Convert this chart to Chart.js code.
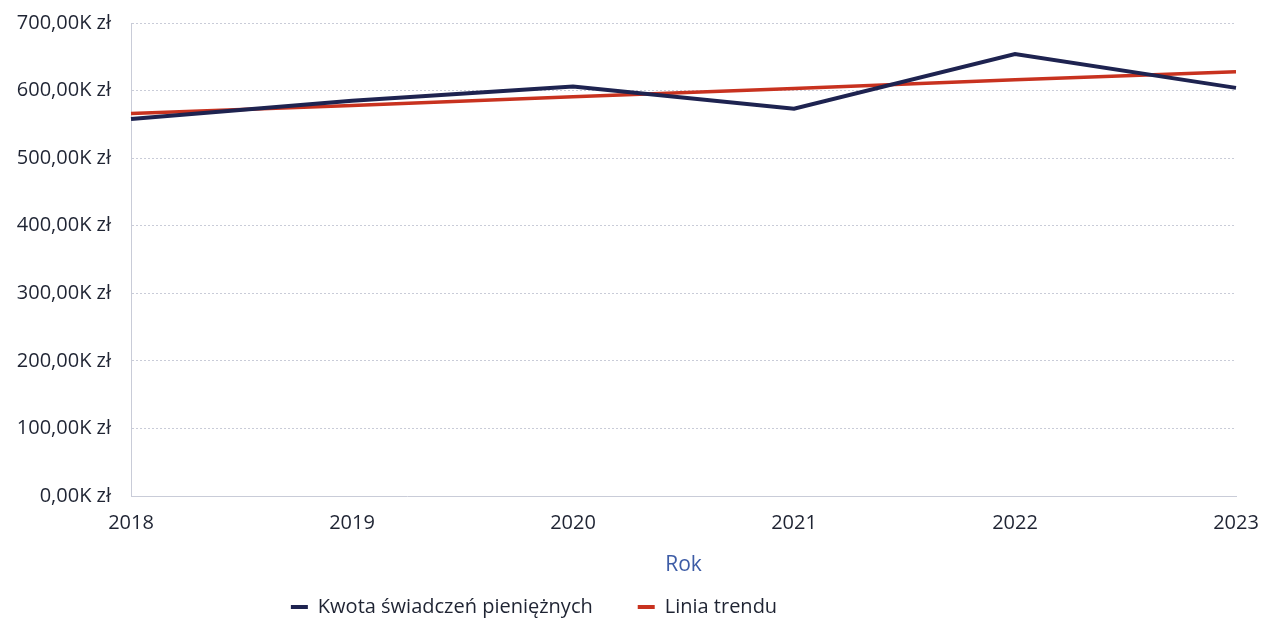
<!DOCTYPE html>
<html>
<head>
<meta charset="utf-8">
<script src="https://cdn.jsdelivr.net/npm/chart.js@4"></script>
<style>
  html, body { margin: 0; padding: 0; background: #fff; }
  #wrap { width: 1268px; height: 625px; }
</style>
</head>
<body>
<div id="wrap"><canvas id="kwotaChart"></canvas></div>
<script>
// Data (values in thousands of zł)
const years = ['2018', '2019', '2020', '2021', '2022', '2023'];
const kwota = [558, 585, 606, 573, 654, 604];
const trend = [566, 578, 591, 603, 616, 628];
const yTicks = [0, 100, 200, 300, 400, 500, 600, 700];

const textColor = '#1f2433';
const gridColor = '#c9ccd8';
const fontFamily = '"Open Sans", sans-serif';

// keep the legend short and move it left, like in the original
const legendTweak = {
    id: 'legendTweak',
    afterInit(chart) {
        const lg = chart.legend;
        const origFit = lg.fit;
        lg.fit = function () {
            origFit.call(this);
            this.height = 42;
        };
    },
    afterLayout(chart) {
        const lg = chart.legend;
        lg.left -= 100;
        lg.right -= 100;
        lg.top -= 31; // bottom stays, the legend clips to its box
    }
};

const config = {
    type: 'line',
    data: {
        labels: years,
        datasets: [{
            label: 'Kwota świadczeń pieniężnych',
            data: kwota,
            borderColor: '#1e2350',
            backgroundColor: '#1e2350',
            borderWidth: 4,
            pointRadius: 0,
            tension: 0
        }, {
            label: 'Linia trendu',
            data: trend,
            borderColor: '#c8321f',
            backgroundColor: '#c8321f',
            borderWidth: 3.5,
            pointRadius: 0,
            tension: 0
        }]
    },
    options: {
        responsive: true,
        maintainAspectRatio: false,
        animation: false,
        layout: { padding: 0 },
        scales: {
            x: {
                offset: false,
                grid: { display: false, drawTicks: false },
                border: { display: true, color: gridColor, dash: [2, 2] },
                ticks: {
                    color: textColor,
                    padding: 15,
                    maxRotation: 0,
                    font: { family: fontFamily, size: 20 }
                },
                title: {
                    display: true,
                    text: 'Rok',
                    color: '#3d5ca6',
                    padding: { top: 4, bottom: 5 },
                    font: { family: fontFamily, size: 21 }
                },
                afterFit(axis) {
                    axis.height = 87;
                    axis.paddingLeft = 0;
                    axis.paddingRight = 32;
                }
            },
            y: {
                min: 0,
                max: 700,
                afterBuildTicks(axis) {
                    axis.ticks = yTicks.map(v => ({ value: v }));
                },
                grid: { color: gridColor, drawTicks: false, lineWidth: 1 },
                border: { display: true, color: gridColor, dash: [2, 2] },
                ticks: {
                    color: textColor,
                    padding: 20,
                    font: { family: fontFamily, size: 20 },
                    callback: v => v.toFixed(2).replace('.', ',') + 'K zł'
                },
                afterFit(axis) {
                    axis.width = 131;
                    axis.paddingTop = 23;
                    axis.paddingBottom = 0;
                }
            }
        },
        plugins: {
            legend: {
                position: 'bottom',
                labels: {
                    color: textColor,
                    boxWidth: 17,
                    boxHeight: 4,
                    padding: 45,
                    font: { family: fontFamily, size: 20 },
                    generateLabels(chart) {
                        const items = Chart.defaults.plugins.legend.labels.generateLabels(chart);
                        items.forEach(it => { it.lineWidth = 0; });
                        return items;
                    }
                }
            },
            tooltip: { enabled: false }
        }
    },
    plugins: [legendTweak]
};

// Render the chart
const ctx = document.getElementById('kwotaChart').getContext('2d');
const kwotaChart = new Chart(ctx, config);
</script>
</body>
</html>
